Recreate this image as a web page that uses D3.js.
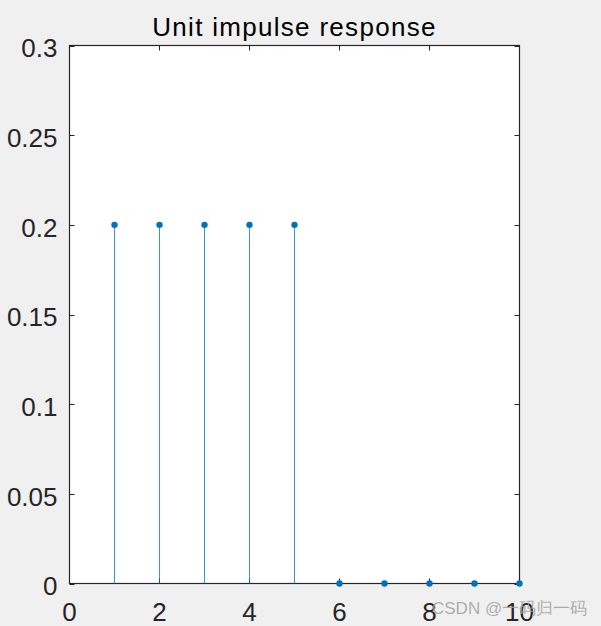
<!DOCTYPE html>
<html lang="en">
<head>
  <meta charset="utf-8">
  <title>Unit impulse response</title>
  <script src="https://d3js.org/d3.v7.min.js"></script>
  <style>
    body { margin: 0; background: #f0f0f0; }
    svg { display: block; }
    text { font-family: "Liberation Sans", Arial, sans-serif; }
  </style>
</head>
<body>
  <svg width="601" height="626"></svg>
  <script>
    // sample index and response value
    var samples = [1, 2, 3, 4, 5, 6, 7, 8, 9, 10];
    var values = [0.2, 0.2, 0.2, 0.2, 0.2, 0, 0, 0, 0, 0];
    var xTicks = [0, 2, 4, 6, 8, 10];
    var yTicks = [0, 0.05, 0.1, 0.15, 0.2, 0.25, 0.3];
    var titleText = "Unit impulse response";
    var watermark = "CSDN @一码归一码";

    var svg = d3.select("svg"),
      plotLeft = 69.5, plotRight = 519.5, plotTop = 45.5, plotBottom = 583.5,
      stemColor = "#0072bd",
      axisColor = "#262626",
      tickLen = 5;

    var x = d3.scaleLinear().domain([0, 10]).range([plotLeft, plotRight]);
    var y = d3.scaleLinear().domain([0, 0.3]).range([plotBottom, plotTop]);
    var px = v => Math.floor(x(v)) + 0.5;

    svg.append("rect")
      .attr("x", plotLeft).attr("y", plotTop)
      .attr("width", plotRight - plotLeft).attr("height", plotBottom - plotTop)
      .attr("fill", "#fff");

    // stems
    var g = svg.append("g");
    g.selectAll("line.stem")
      .data(samples)
      .enter().append("line")
      .attr("class", "stem")
      .attr("x1", d => px(d))
      .attr("x2", d => px(d))
      .attr("y1", y(0))
      .attr("y2", (d, i) => y(values[i]))
      .attr("stroke", stemColor)
      .attr("stroke-opacity", 0.75)
      .attr("stroke-width", 1);

    // box and ticks
    var frame = svg.append("g").attr("stroke", axisColor).attr("fill", "none");
    frame.append("rect")
      .attr("x", plotLeft).attr("y", plotTop)
      .attr("width", plotRight - plotLeft).attr("height", plotBottom - plotTop)
      .attr("stroke-width", 1.2);

    xTicks.forEach(t => {
      frame.append("line").attr("x1", px(t)).attr("x2", px(t)).attr("y1", plotBottom).attr("y2", plotBottom - tickLen);
      frame.append("line").attr("x1", px(t)).attr("x2", px(t)).attr("y1", plotTop).attr("y2", plotTop + tickLen);
    });
    yTicks.forEach(t => {
      var py = Math.round(y(t)) + 0.5;
      frame.append("line").attr("x1", plotLeft).attr("x2", plotLeft + tickLen).attr("y1", py).attr("y2", py);
      frame.append("line").attr("x1", plotRight).attr("x2", plotRight - tickLen).attr("y1", py).attr("y2", py);
    });

    // markers drawn over the axes
    g.selectAll("circle")
      .data(samples)
      .enter().append("circle")
      .attr("cx", d => px(d))
      .attr("cy", (d, i) => y(values[i]))
      .attr("r", 3.2)
      .attr("fill", stemColor);
    g.raise();

    svg.append("g").selectAll("text")
      .data(xTicks)
      .enter().append("text")
      .attr("x", d => x(d))
      .attr("y", 621)
      .attr("text-anchor", "middle")
      .attr("font-size", 26)
      .attr("fill", axisColor)
      .text(d => d);

    svg.append("g").selectAll("text")
      .data(yTicks)
      .enter().append("text")
      .attr("x", plotLeft - 12)
      .attr("y", d => y(d))
      .attr("dy", "0.45em")
      .attr("text-anchor", "end")
      .attr("font-size", 26)
      .attr("fill", axisColor)
      .text(d => d);

    svg.append("text")
      .attr("x", (plotLeft + plotRight) / 2)
      .attr("y", 36)
      .attr("text-anchor", "middle")
      .attr("font-size", 26)
      .attr("letter-spacing", 1.3)
      .attr("fill", "#000")
      .text(titleText);

    svg.append("text")
      .attr("x", 432)
      .attr("y", 614)
      .attr("font-family", "'Noto Sans CJK SC', sans-serif")
      .attr("font-size", 17)
      .attr("fill", "#a0a0a0")
      .attr("fill-opacity", 0.85)
      .text(watermark);
  </script>
</body>
</html>
